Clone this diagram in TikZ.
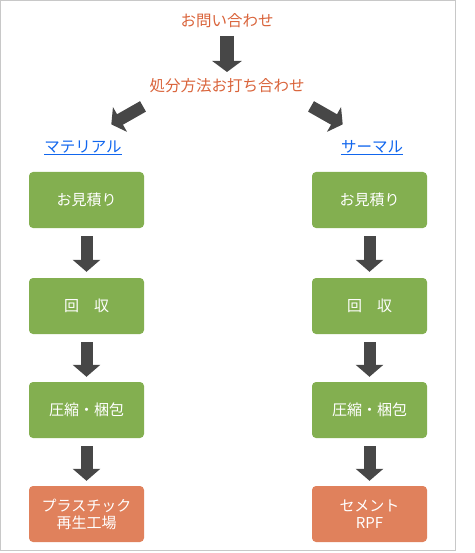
\documentclass[tikz,border=0pt]{standalone}
\usepackage{fontspec}
\setmainfont{Noto Sans CJK JP}
\usetikzlibrary{arrows.meta}
\definecolor{titleorange}{HTML}{D9633A}
\definecolor{linkblue}{HTML}{1166EE}
\definecolor{boxgreen}{HTML}{83AF50}
\definecolor{boxorange}{HTML}{E0815C}
\definecolor{arrowgray}{HTML}{474747}
\definecolor{framegray}{HTML}{C8C8C8}
\begin{document}
\begin{tikzpicture}[x=1pt,y=-1pt,
  title/.style={text=titleorange, font=\fontsize{15.5}{18}\selectfont, inner sep=0pt},
  link/.style={text=linkblue, font=\fontsize{15.5}{18}\selectfont, inner sep=0pt},
  stepbox/.style={rounded corners=4pt, minimum width=115pt, minimum height=56pt,
    text=white, font=\fontsize{15}{19}\selectfont, align=center, inner sep=0pt},
  greenbox/.style={stepbox, fill=boxgreen},
  endbox/.style={stepbox, fill=boxorange},
  fatarrow/.style={draw=arrowgray, line width=12pt, -{Triangle[length=12pt,width=27pt]}},
  underlinestyle/.style={draw=linkblue, line width=1pt}
]
\useasboundingbox (0,0) rectangle (474,553);
\draw[framegray, line width=1.2pt] (0.6,0.6) rectangle (455.6,550.6);

\node[title] (q1) at (227,21) {お問い合わせ};
\node[title] (q2) at (227,86) {処分方法お打ち合わせ};
\node[link] (m) at (83,147) {マテリアル};
\node[link] (t) at (372,147) {サーマル};
\draw[underlinestyle] ([yshift=-8pt]m.west) -- ([yshift=-8pt]m.east);
\draw[underlinestyle] ([yshift=-8pt]t.west) -- ([yshift=-8pt]t.east);

\node[greenbox] (l1) at (86.5,200) {お見積り};
\node[greenbox] (l2) at (86.5,306) {回\hspace{1em}収};
\node[greenbox] (l3) at (86.5,410) {圧縮・梱包};
\node[endbox]   (l4) at (86.5,514) {プラスチック\\[-2pt]再生工場};

\node[greenbox] (r1) at (369.5,200) {お見積り};
\node[greenbox] (r2) at (369.5,306) {回\hspace{1em}収};
\node[greenbox] (r3) at (369.5,410) {圧縮・梱包};
\node[endbox]   (r4) at (369.5,514) {セメント\\[-2pt]RPF};

\draw[fatarrow, line width=14pt, -{Triangle[length=11pt,width=29pt]},
  shorten <=15pt, shorten >=14pt] (q1.center) -- (q2.center);

\coordinate (ls) at (143,106.4);
\coordinate (lt) at (111.3,124.4);
\coordinate (rs) at (311,106.4);
\coordinate (rt) at (342.7,124.4);
\draw[fatarrow, -{Triangle[length=10pt,width=28pt]}] (ls) -- (lt);
\draw[fatarrow, -{Triangle[length=10pt,width=28pt]}] (rs) -- (rt);

\foreach \c in {l,r}{
  \draw[fatarrow, shorten <=8pt, shorten >=6pt] (\c1) -- (\c2);
  \draw[fatarrow, shorten <=8pt, shorten >=5pt] (\c2) -- (\c3);
  \draw[fatarrow, shorten <=8pt, shorten >=5pt] (\c3) -- (\c4);
}
\end{tikzpicture}
\end{document}
